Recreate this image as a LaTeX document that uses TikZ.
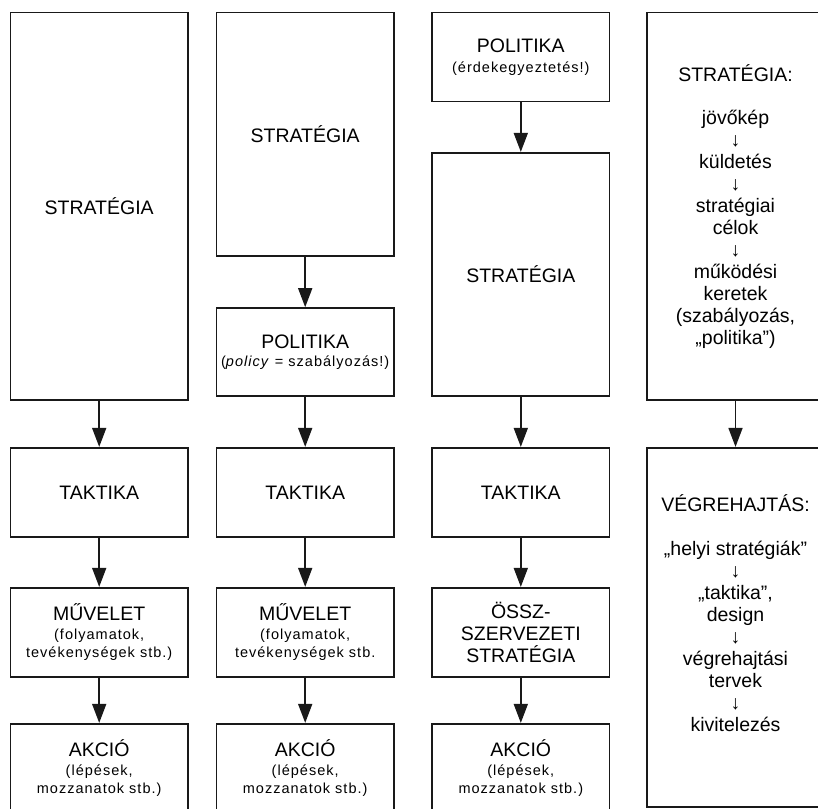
\documentclass[tikz,border=0pt]{standalone}
\usepackage{fontspec}
\setmainfont{Liberation Sans}
\newfontfamily\notefont[LetterSpace=7]{Liberation Sans}
\usetikzlibrary{arrows.meta}
\newcommand\bigtext{\fontsize{19.5}{22}\selectfont}
\newcommand\notetext{\notefont\fontsize{14.5}{18}\selectfont}
\newcommand\arrowtext{\fontsize{19.5}{22}\selectfont}
\begin{document}
\begin{tikzpicture}[x=1pt,y=-1pt,
  box/.style={draw=black!90, line width=1.6pt, minimum width=177.5pt,
    inner sep=0pt, align=center, font=\bigtext},
  flow/.style={draw=black!90, line width=1.6pt, -{Triangle[length=19pt,width=14pt]}},
  plain/.style={inner sep=0pt, align=center, font=\bigtext}]
\useasboundingbox (0,0) rectangle (818,808);
\clip (0,0) rectangle (818,808);

% column 1
\node[box, minimum height=387.3pt] (s1) at (99.2,206.35) {STRATÉGIA};
\node[box, minimum height=89.3pt] (t1) at (99.2,492.35) {TAKTIKA};
\node[box, minimum height=89.3pt] (m1) at (99.2,632.35)
  {MŰVELET\\[-3pt]{\notetext (folyamatok,}\\[-4pt]{\notetext tevékenységek stb.)}};
\node[box, minimum height=89.3pt] (a1) at (99.2,768.35)
  {AKCIÓ\\[-3pt]{\notetext (lépések,}\\[-4pt]{\notetext mozzanatok stb.)}};

% column 2
\node[box, minimum height=243pt] (s2) at (305.2,134.2) {STRATÉGIA};
\node[box, minimum height=87.7pt] (p2) at (305.2,351.85)
  {POLITIKA\\[-4pt]{\notetext (\textit{policy} = szabályozás!)}};
\node[box, minimum height=89.3pt] (t2) at (305.2,492.35) {TAKTIKA};
\node[box, minimum height=89.3pt] (m2) at (305.2,632.35)
  {MŰVELET\\[-3pt]{\notetext (folyamatok,}\\[-4pt]{\notetext tevékenységek stb.}};
\node[box, minimum height=89.3pt] (a2) at (305.2,768.35)
  {AKCIÓ\\[-3pt]{\notetext (lépések,}\\[-4pt]{\notetext mozzanatok stb.)}};

% column 3
\node[box, minimum height=88.6pt] (p3) at (520.8,57)
  {POLITIKA\\[-2pt]{\notetext (érdekegyeztetés!)}};
\node[box, minimum height=243pt] (s3) at (520.8,274.2) {STRATÉGIA};
\node[box, minimum height=89.3pt] (t3) at (520.8,492.35) {TAKTIKA};
\node[box, minimum height=89.3pt] (o3) at (520.8,632.35)
  {ÖSSZ-\\SZERVEZETI\\STRATÉGIA};
\node[box, minimum height=89.3pt] (a3) at (520.8,768.35)
  {AKCIÓ\\[-3pt]{\notetext (lépések,}\\[-4pt]{\notetext mozzanatok stb.)}};

% column 4
\node[box, minimum height=387.3pt] (s4) at (735.5,206.35)
  {STRATÉGIA:\\[21pt]jövőkép\\{\arrowtext ↓}\\küldetés\\{\arrowtext ↓}\\
   stratégiai\\célok\\{\arrowtext ↓}\\működési\\keretek\\(szabályozás,\\„politika”)};
\node[box, minimum height=359.3pt] (e4) at (735.5,627.35) {};
\node[plain] (e4text) at ([yshift=14pt]e4.center)
  {VÉGREHAJTÁS:\\[22pt]„helyi stratégiák”\\{\arrowtext ↓}\\„taktika”,\\design\\
   {\arrowtext ↓}\\végrehajtási\\tervek\\{\arrowtext ↓}\\kivitelezés};

% connectors
\draw[flow] (s1.south) -- (t1.north);
\draw[flow] (t1.south) -- (m1.north);
\draw[flow] (m1.south) -- (a1.north);
\draw[flow] (s2.south) -- (p2.north);
\draw[flow] (p2.south) -- (t2.north);
\draw[flow] (t2.south) -- (m2.north);
\draw[flow] (m2.south) -- (a2.north);
\draw[flow] (p3.south) -- (s3.north);
\draw[flow] (s3.south) -- (t3.north);
\draw[flow] (t3.south) -- (o3.north);
\draw[flow] (o3.south) -- (a3.north);
\draw[flow] (s4.south) -- (e4.north);
\end{tikzpicture}
\end{document}
